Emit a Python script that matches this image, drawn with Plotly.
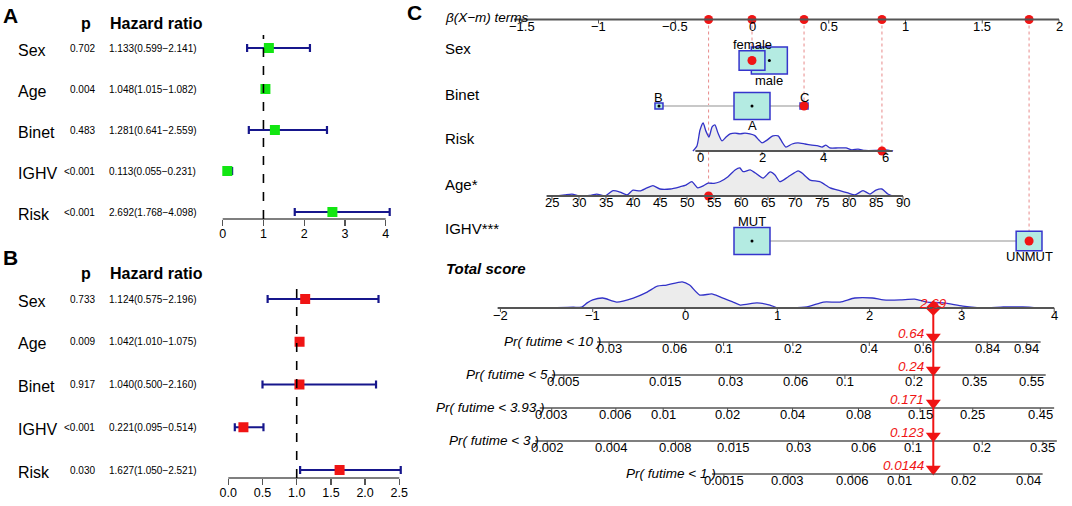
import math
import plotly.graph_objects as go

W, H = 1072, 506
FONT = "Liberation Sans, Arial, sans-serif"

# ---------------- Panel A / B data (forest plots) ----------------
forest_vars = ["Sex", "Age", "Binet", "IGHV", "Risk"]
pval_A = ["0.702", "0.004", "0.483", "<0.001", "<0.001"]
hr_A = [1.133, 1.048, 1.281, 0.113, 2.692]
lo_A = [0.599, 1.015, 0.641, 0.055, 1.768]
hi_A = [2.141, 1.082, 2.559, 0.231, 4.098]
ticks_A = [0, 1, 2, 3, 4]

pval_B = ["0.733", "0.009", "0.917", "<0.001", "0.030"]
hr_B = [1.124, 1.042, 1.040, 0.221, 1.627]
lo_B = [0.575, 1.010, 0.500, 0.095, 1.050]
hi_B = [2.196, 1.075, 2.160, 0.514, 2.521]
ticks_B = [0, 0.5, 1.0, 1.5, 2.0, 2.5]

# ---------------- Panel C data (nomogram) ----------------
beta_ticks = [-1.5, -1, -0.5, 0, 0.5, 1, 1.5, 2]
sex_levels = ["female", "male"]
sex_beta = [0.0, 0.113]
sex_freq = [0.34, 0.66]
binet_levels = ["A", "B", "C"]
binet_beta = [0.0, -0.606, 0.339]
binet_freq = [0.91, 0.045, 0.045]
ighv_levels = ["MUT", "UNMUT"]
ighv_beta = [0.0, 1.805]
ighv_freq = [0.66, 0.34]
risk_coef, risk_mean = 0.2019, 1.677
age_coef, age_mean = 0.03518, 62.04
risk_ticks = [0, 2, 4, 6]
age_ticks = [25, 30, 35, 40, 45, 50, 55, 60, 65, 70, 75, 80, 85, 90]
score_ticks = [-2, -1, 0, 1, 2, 3, 4]

risk_dens_x = [-0.23, -0.10, 0.0, 0.10, 0.19, 0.29, 0.39, 0.48, 0.58, 0.71, 0.84, 0.97,
               1.13, 1.29, 1.45, 1.61, 1.77, 1.90, 2.0, 2.16, 2.35, 2.52, 2.65, 2.77,
               2.97, 3.16, 3.39, 3.61, 3.81, 3.94, 4.06, 4.19, 4.45, 4.71, 4.90, 5.10,
               5.32, 5.65, 5.97, 6.23]
risk_dens_y = [0.0, 0.18, 0.75, 1.0, 0.71, 0.50, 0.86, 0.93, 0.64, 0.36, 0.50, 0.61,
               0.64, 0.61, 0.64, 0.61, 0.55, 0.39, 0.29, 0.39, 0.54, 0.54, 0.32, 0.14,
               0.25, 0.29, 0.25, 0.21, 0.18, 0.14, 0.21, 0.11, 0.11, 0.11, 0.04, 0.07,
               0.02, 0.02, 0.04, 0.0]
age_dens_x = [25.9, 27.4, 28.7, 30.2, 32.0, 33.3, 34.8, 36.3, 37.6, 38.9, 40.0, 41.3,
              42.6, 43.7, 45.0, 46.9, 48.7, 49.8, 50.9, 52.0, 53.0, 53.9, 55.0, 56.1,
              57.6, 58.9, 59.8, 60.4, 61.7, 62.6, 64.1, 65.4, 66.3, 67.2, 68.7, 70.6,
              71.3, 72.8, 74.6, 76.5, 78.3, 79.8, 81.1, 82.6, 83.9, 85.0, 86.1, 87.2, 88.1]
age_dens_y = [0.0, 0.04, 0.07, 0.0, 0.02, 0.07, 0.0, 0.19, 0.14, 0.04, 0.21, 0.18,
              0.29, 0.37, 0.25, 0.25, 0.33, 0.39, 0.51, 0.29, 0.36, 0.46, 0.45, 0.51,
              0.69, 0.93, 1.0, 0.87, 0.93, 0.83, 0.64, 0.86, 0.75, 0.51, 0.68, 0.90,
              0.82, 0.57, 0.51, 0.29, 0.19, 0.11, 0.04, 0.19, 0.07, 0.21, 0.25, 0.07, 0.0]
score_dens_x = [-1.39, -1.21, -1.12, -1.06, -1.0, -0.89, -0.74, -0.56, -0.41, -0.30,
                -0.20, -0.03, 0.05, 0.16, 0.29, 0.38, 0.52, 0.60, 0.78, 0.92, 1.01,
                1.32, 1.50, 1.68, 1.84, 2.03, 2.15, 2.33, 2.49, 2.62, 2.80, 3.01,
                3.23, 3.45, 3.66, 3.85]
score_dens_y = [0.01, 0.03, 0.03, 0.19, 0.30, 0.37, 0.22, 0.37, 0.59, 0.81, 0.85,
                0.97, 0.85, 0.48, 0.52, 0.41, 0.22, 0.11, 0.19, 0.11, 0.0, 0.04, 0.22,
                0.22, 0.37, 0.37, 0.30, 0.30, 0.33, 0.22, 0.19, 0.07, 0.0, 0.04, 0.04, 0.0]

# patient being scored
pt_sex, pt_binet, pt_ighv = "female", "C", "UNMUT"
pt_risk, pt_age = 5.87, 54
total_score = 2.69
pr_times = ["10", "5", "3.93", "3", "1"]
pr_values = [0.64, 0.24, 0.171, 0.123, 0.0144]
pr_ticks = [[0.03, 0.06, 0.1, 0.2, 0.4, 0.6, 0.84, 0.94],
            [0.005, 0.015, 0.03, 0.06, 0.1, 0.2, 0.35, 0.55],
            [0.003, 0.006, 0.01, 0.02, 0.04, 0.08, 0.15, 0.25, 0.45],
            [0.002, 0.004, 0.008, 0.015, 0.03, 0.06, 0.1, 0.2, 0.35],
            [0.0015, 0.003, 0.006, 0.01, 0.02, 0.04]]

# ---------------- colours ----------------
GREEN = "#12e612"
RED = "#f01414"
NAVY = "#16168c"
AXIS = "#555555"
BOXFILL = "#b4ebe2"
BOXLINE = "#3535cc"
DENS = "#3232c8"
DENSFILL = "#ececec"

fig = go.Figure()
annotations = []
shapes = []


def ann(text, x, y, xref="paper", yref="paper", size=13, color="black",
        xanchor="center", yanchor="middle", yshift=0):
    if xref == "paper":
        x = x / W
    if yref == "paper":
        y = 1 - y / H
    annotations.append(dict(text=text, x=x, y=y, xref=xref, yref=yref, showarrow=False,
                            xanchor=xanchor, yanchor=yanchor, yshift=yshift,
                            font=dict(family=FONT, size=size, color=color)))


def fmt(v):
    s = f"{v:g}"
    return s.replace("-", "\u2212")


# ================= forest panels =================
def forest(xa, ya, hr, lo, hi, pv, ticks, ticktext, color, x0px, ppu, xr,
           row0, step, axis_px, top_px, dash_top, header_y, letter, letter_y):
    n = len(hr)
    rows = [-i for i in range(n)]
    xname = "xaxis" if xa == "x" else "xaxis" + xa[1:]
    yname = "yaxis" if ya == "y" else "yaxis" + ya[1:]
    fig.add_trace(go.Scatter(
        x=hr, y=rows, mode="markers", xaxis=xa, yaxis=ya,
        marker=dict(symbol="square", size=10, color=color, line=dict(width=0)),
        error_x=dict(type="data", symmetric=False,
                     array=[h - m for h, m in zip(hi, hr)],
                     arrayminus=[m - l for m, l in zip(hr, lo)],
                     color=NAVY, thickness=2.2, width=4),
        hoverinfo="skip"))
    fig.layout[xname] = dict(
        domain=[(x0px + xr[0] * ppu) / W, (x0px + xr[1] * ppu) / W], range=xr,
        anchor=ya, showgrid=False, zeroline=False, showline=False,
        ticks="outside", ticklen=6, tickwidth=1.3, tickcolor=AXIS,
        tickvals=ticks, ticktext=ticktext, ticklabelstandoff=-3,
        tickfont=dict(family=FONT, size=12.5, color="black"))
    yr = [-(axis_px - row0) / step, (row0 - top_px) / step]
    fig.layout[yname] = dict(domain=[1 - axis_px / H, 1 - top_px / H], range=yr,
                             anchor=xa, visible=False)
    shapes.append(dict(type="line", xref=xa, yref=ya + " domain", x0=ticks[0], x1=ticks[-1],
                       y0=0, y1=0, line=dict(color=AXIS, width=1.4)))
    shapes.append(dict(type="line", xref=xa, yref=ya + " domain", x0=1, x1=1,
                       y0=0, y1=(axis_px - dash_top) / (axis_px - top_px),
                       line=dict(color="black", width=1.6, dash="dash")))
    for i in range(n):
        annotations.append(dict(text=forest_vars[i], x=16 / W, y=rows[i], xref="paper", yref=ya,
                                showarrow=False, xanchor="left", yanchor="middle", yshift=-2,
                                font=dict(family=FONT, size=16, color="black")))
        annotations.append(dict(text=pv[i], x=97 / W, y=rows[i], xref="paper", yref=ya,
                                showarrow=False, xanchor="right", yanchor="middle",
                                font=dict(family=FONT, size=10, color="black")))
        txt = f"{hr[i]:.3f}({lo[i]:.3f}\u2212{hi[i]:.3f})"
        annotations.append(dict(text=txt, x=107 / W, y=rows[i], xref="paper", yref=ya,
                                showarrow=False, xanchor="left", yanchor="middle",
                                font=dict(family=FONT, size=10, color="black")))
    ann("<b>p</b>", 86, header_y, size=16)
    ann("<b>Hazard ratio</b>", 108, header_y, size=16, xanchor="left")
    ann("<b>" + letter + "</b>", 10, letter_y, size=21)


forest("x", "y", hr_A, lo_A, hi_A, pval_A, ticks_A, [fmt(t) for t in ticks_A], GREEN,
       222.7, 40.75, [-0.2, 4.3], 48, 41, 219, 30, 35, 24, "A", 15)
forest("x2", "y2", hr_B, lo_B, hi_B, pval_B, ticks_B, [f"{t:.1f}" for t in ticks_B], RED,
       228.3, 68.4, [-0.15, 2.62], 299, 42.75, 478, 285, 288, 273, "B", 257)

# ================= nomogram panel =================
BETA0_PX, BETA_PPU = 752.0, 153.5      # beta = 0 pixel and pixels per beta unit
SCORE0_PX, SCORE_PPU = 685.0, 92.3     # total score axis
beta_range = [(0 - BETA0_PX) / BETA_PPU, (W - BETA0_PX) / BETA_PPU]
score_range = [(0 - SCORE0_PX) / SCORE_PPU, (W - SCORE0_PX) / SCORE_PPU]
risk_range = [risk_mean + b / risk_coef for b in beta_range]
age_range = [age_mean + b / age_coef for b in beta_range]

fig.layout["xaxis3"] = dict(domain=[0, 1], range=beta_range, anchor="y3", visible=False)
fig.layout["yaxis3"] = dict(domain=[0, 1], range=[H, 0], anchor="x3", visible=False)
fig.layout["xaxis4"] = dict(domain=[0, 1], range=score_range, anchor="y3", overlaying="x3", visible=False)
fig.layout["xaxis5"] = dict(domain=[0, 1], range=risk_range, anchor="y3", overlaying="x3", visible=False)
fig.layout["xaxis6"] = dict(domain=[0, 1], range=age_range, anchor="y3", overlaying="x3", visible=False)

# row positions (pixels from top)
Y_BETA, Y_SEX, Y_BINET, Y_RISK, Y_AGE, Y_IGHV, Y_SCORE = 19.5, 60.5, 106, 151, 196, 241, 308
Y_PR = [342, 375, 408, 441, 474]
LABEL_X = 443


def axis_line(xref, x0, x1, y, ticks, labels, lab_dy=7, width=1.8):
    shapes.append(dict(type="line", xref=xref, yref="y3", x0=x0, x1=x1, y0=y, y1=y,
                       line=dict(color=AXIS, width=width)))
    for t, l in zip(ticks, labels):
        shapes.append(dict(type="line", xref=xref, yref="y3", x0=t, x1=t, y0=y, y1=y + 4,
                           line=dict(color=AXIS, width=1)))
        annotations.append(dict(text=l, x=t, y=y + lab_dy, xref=xref, yref="y3", showarrow=False,
                                xanchor="center", yanchor="middle",
                                font=dict(family=FONT, size=13, color="black")))


# labels on the left
ann("<b>C</b>", 414, 13, size=21)
ann("<i>\u03b2(X\u2212m) terms</i>", LABEL_X, 17, size=13.5, xanchor="left")
for txt, yy in [("Sex", 48), ("Binet", 94), ("Risk", 138), ("Age*", 184), ("IGHV***", 228)]:
    ann(txt, LABEL_X, yy, size=15, xanchor="left")
ann("<b><i>Total score</i></b>", LABEL_X + 1, 268, size=15, xanchor="left")

# patient betas
pt_beta = [
    sex_beta[sex_levels.index(pt_sex)],
    binet_beta[binet_levels.index(pt_binet)],
    risk_coef * (pt_risk - risk_mean),
    age_coef * (pt_age - age_mean),
    ighv_beta[ighv_levels.index(pt_ighv)],
]
pt_rows = [Y_SEX, Y_BINET, Y_RISK, Y_AGE, Y_IGHV]

# dotted red guide lines
for b, yy in zip(pt_beta, pt_rows):
    shapes.append(dict(type="line", xref="x3", yref="y3", x0=b, x1=b, y0=Y_BETA, y1=yy,
                       layer="below", line=dict(color="#e88a8a", width=1, dash="dot")))

# top beta axis
axis_line("x3", -1.55, 2.0, Y_BETA, beta_ticks, [fmt(t) for t in beta_ticks], lab_dy=7, width=2)


# categorical variables (boxes)
BOX_MAX_PX = 36.0


def cat_var(levels, betas, freqs, yrow):
    fmax = max(freqs)
    shapes.append(dict(type="line", xref="x3", yref="y3", x0=min(betas), x1=max(betas),
                       y0=yrow, y1=yrow, layer="below", line=dict(color="#c8c8c8", width=2)))
    order = sorted(range(len(levels)), key=lambda k: betas[k])
    for k in sorted(range(len(levels)), key=lambda k: -freqs[k]):
        wpx = BOX_MAX_PX * math.sqrt(freqs[k] / fmax)
        hpx = wpx * 0.75
        hw = wpx / 2 / BETA_PPU
        shapes.append(dict(type="rect", xref="x3", yref="y3", x0=betas[k] - hw, x1=betas[k] + hw,
                           y0=yrow - hpx / 2, y1=yrow + hpx / 2, layer="below",
                           fillcolor=BOXFILL, line=dict(color=BOXLINE, width=1.5)))
    for j, k in enumerate(order):
        wpx = BOX_MAX_PX * math.sqrt(freqs[k] / fmax)
        hpx = wpx * 0.75
        above = (j % 2 == 0)
        yy = yrow - hpx / 2 - 6 if above else yrow + hpx / 2 + 6
        annotations.append(dict(text=levels[k], x=betas[k], y=yy, xref="x3", yref="y3",
                                showarrow=False, xanchor="center", yanchor="middle",
                                font=dict(family=FONT, size=13, color="black")))
    fig.add_trace(go.Scatter(x=betas, y=[yrow] * len(betas), xaxis="x3", yaxis="y3",
                             mode="markers", marker=dict(size=3, color="black"),
                             hoverinfo="skip"))


cat_var(sex_levels, sex_beta, sex_freq, Y_SEX)
cat_var(binet_levels, binet_beta, binet_freq, Y_BINET)
cat_var(ighv_levels, ighv_beta, ighv_freq, Y_IGHV)


# continuous variables / densities
def density(xa, xs, ys, base, hpx):
    top = [base - v * hpx for v in ys]
    fig.add_trace(go.Scatter(x=xs + xs[::-1], y=top + [base] * len(xs), xaxis=xa, yaxis="y3",
                             mode="lines", fill="toself", fillcolor=DENSFILL,
                             line=dict(width=0), hoverinfo="skip"))
    fig.add_trace(go.Scatter(x=xs, y=top, xaxis=xa, yaxis="y3", mode="lines",
                             line=dict(color=DENS, width=1.3, shape="spline", smoothing=0.6),
                             hoverinfo="skip"))


density("x5", risk_dens_x, risk_dens_y, Y_RISK, 28)
axis_line("x5", -0.15, 6.2, Y_RISK, risk_ticks, [fmt(t) for t in risk_ticks], lab_dy=6.5)
density("x6", age_dens_x, age_dens_y, Y_AGE, 28)
axis_line("x6", 24.0, 90.0, Y_AGE, age_ticks, [fmt(t) for t in age_ticks], lab_dy=6)
density("x4", score_dens_x, score_dens_y, Y_SCORE, 27)
axis_line("x4", -2.03, 4.0, Y_SCORE, score_ticks, [fmt(t) for t in score_ticks], lab_dy=7.5)

# probability scales
for i, (t, pv, ticks) in enumerate(zip(pr_times, pr_values, pr_ticks)):
    h0 = -math.log(1 - pv) / math.exp(total_score)
    s_of = lambda p: math.log(-math.log(1 - p) / h0)
    tick_s = [s_of(p) for p in ticks]
    x0 = tick_s[0] - 0.13
    x1 = tick_s[-1] + 0.15
    axis_line("x4", x0, x1, Y_PR[i], tick_s, [f"{p:g}" for p in ticks], lab_dy=6.5, width=1.6)
    annotations.append(dict(text=f"<i>Pr( futime < {t} )</i>", x=x0, y=Y_PR[i] - 1,
                            xref="x4", yref="y3", showarrow=False, xanchor="right",
                            yanchor="middle", xshift=6,
                            font=dict(family=FONT, size=13.5, color="black")))
    annotations.append(dict(text=f"<i>{pv:g}</i>", x=total_score, y=Y_PR[i] - 9,
                            xref="x4", yref="y3", showarrow=False, xanchor="right",
                            yanchor="middle", xshift=-7,
                            font=dict(family=FONT, size=13.5, color=RED)))

# red result line, arrows and diamond
shapes.append(dict(type="line", xref="x4", yref="y3", x0=total_score, x1=total_score,
                   y0=Y_SCORE, y1=Y_PR[-1], line=dict(color=RED, width=2)))
fig.add_trace(go.Scatter(x=[total_score] * len(Y_PR), y=[y - 5 for y in Y_PR], xaxis="x4",
                         yaxis="y3", mode="markers",
                         marker=dict(symbol="triangle-down", size=13, color=RED),
                         hoverinfo="skip"))
fig.add_trace(go.Scatter(x=[total_score], y=[Y_SCORE], xaxis="x4", yaxis="y3", mode="markers",
                         marker=dict(symbol="diamond", size=12, color=RED), hoverinfo="skip"))
annotations.append(dict(text=f"<i>{total_score:g}</i>", x=total_score, y=Y_SCORE - 5,
                        xref="x4", yref="y3", showarrow=False, xanchor="center",
                        yanchor="middle", font=dict(family=FONT, size=13.5, color=RED)))

# red dots: top axis and on each variable
fig.add_trace(go.Scatter(x=pt_beta, y=[Y_BETA] * len(pt_beta), xaxis="x3", yaxis="y3",
                         mode="markers", marker=dict(size=9, color=RED), hoverinfo="skip"))
fig.add_trace(go.Scatter(x=[pt_beta[0], pt_beta[1], pt_beta[4]], y=[Y_SEX, Y_BINET, Y_IGHV],
                         xaxis="x3", yaxis="y3", mode="markers",
                         marker=dict(size=9, color=RED), hoverinfo="skip"))
fig.add_trace(go.Scatter(x=[pt_risk], y=[Y_RISK], xaxis="x5", yaxis="y3", mode="markers",
                         marker=dict(size=9, color=RED), hoverinfo="skip"))
fig.add_trace(go.Scatter(x=[pt_age], y=[Y_AGE], xaxis="x6", yaxis="y3", mode="markers",
                         marker=dict(size=9, color=RED), hoverinfo="skip"))

fig.update_layout(width=W, height=H, autosize=False, margin=dict(l=0, r=0, t=0, b=0),
                  paper_bgcolor="white", plot_bgcolor="rgba(0,0,0,0)", showlegend=False,
                  annotations=annotations, shapes=shapes,
                  font=dict(family=FONT, color="black"))
fig.write_html("out.html", config={"displayModeBar": False, "staticPlot": True},
               post_script="document.body.style.margin='0';document.body.style.overflow='hidden';")
